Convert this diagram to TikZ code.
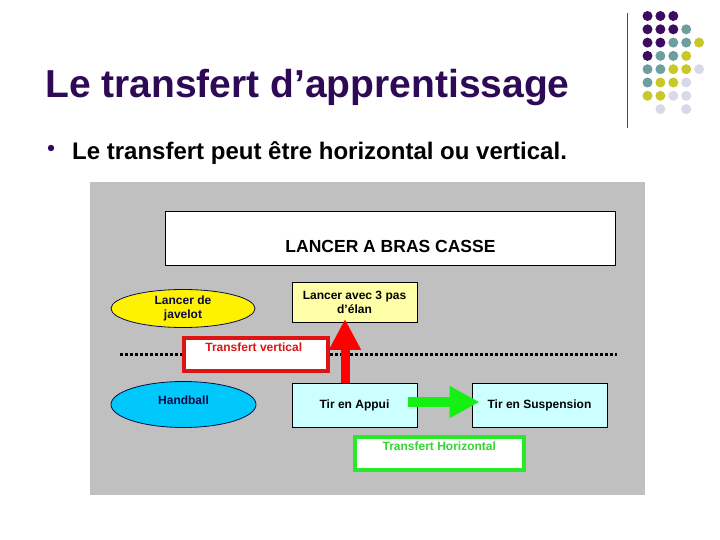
\documentclass[tikz,border=0pt]{standalone}
\usepackage{fontspec}
\setmainfont{Liberation Sans}
\usetikzlibrary{shapes.geometric}
\usetikzlibrary{arrows.meta}

\definecolor{titlepurple}{RGB}{46,10,86}
\definecolor{dotpurple}{RGB}{60,12,98}
\definecolor{dotteal}{RGB}{110,158,160}
\definecolor{dotyellow}{RGB}{200,200,40}
\definecolor{dotlilac}{RGB}{216,216,232}
\definecolor{panelgrey}{RGB}{192,192,192}
\definecolor{paleyellow}{RGB}{255,255,168}
\definecolor{palecyan}{RGB}{204,255,255}
\definecolor{skyblue}{RGB}{0,200,250}
\definecolor{navytext}{RGB}{10,10,70}
\definecolor{boxred}{RGB}{220,20,20}
\definecolor{boxgreen}{RGB}{40,235,40}
\definecolor{textgreen}{RGB}{50,215,50}
\definecolor{arrowgreen}{RGB}{20,240,20}

\tikzset{
  dtext/.style={font=\fontsize{12}{14.3}\selectfont\bfseries},
  plainbox/.style={draw=black, line width=0.9pt, inner sep=0pt},
  ovalbox/.style={ellipse, draw=navytext, line width=0.8pt, inner sep=0pt, text=navytext, dtext, align=center},
  framebox/.style={draw, line width=4pt, fill=white, inner sep=0pt},
}

\begin{document}
\begin{tikzpicture}[x=1pt,y=-1pt]
        \useasboundingbox (0,0) rectangle (720,540);

        \node[anchor=base west, inner sep=0pt, text=titlepurple, font=\fontsize{39}{44}\selectfont\bfseries] (title) at (45,97.5) {Le transfert d’apprentissage};
        \fill[titlepurple] (51,148) circle (3.2pt);
        \node[anchor=base west, inner sep=0pt, font=\fontsize{24}{28}\selectfont\bfseries] (intro) at (72,160) {Le transfert peut être horizontal ou vertical.};

        \draw[line width=1pt, black!70] (627.3,12.7) -- (627.3,127.7);
        \foreach \col/\row/\shade in {1/1/dotpurple, 2/1/dotpurple, 3/1/dotpurple,
            1/2/dotpurple, 2/2/dotpurple, 3/2/dotpurple, 4/2/dotteal,
            1/3/dotpurple, 2/3/dotpurple, 3/3/dotteal, 4/3/dotteal, 5/3/dotyellow,
            1/4/dotpurple, 2/4/dotteal, 3/4/dotteal, 4/4/dotyellow,
            1/5/dotteal, 2/5/dotteal, 3/5/dotyellow, 4/5/dotyellow, 5/5/dotlilac,
            1/6/dotteal, 2/6/dotyellow, 3/6/dotyellow, 4/6/dotlilac,
            1/7/dotyellow, 2/7/dotyellow, 3/7/dotlilac, 4/7/dotlilac,
            2/8/dotlilac, 4/8/dotlilac}
          \fill[\shade] ({634.6+12.9*\col},{2.7+13.3*\row}) circle (5pt);

        \fill[panelgrey] (90,182) rectangle (645,494.5);

        \node[plainbox, fill=white, minimum width=450pt, minimum height=54pt,
          label={[font=\fontsize{17.5}{20}\selectfont\bfseries, yshift=-8.4pt]center:LANCER A BRAS CASSE}] (bras) at (390.5,238.3) {};
        \node[plainbox, fill=paleyellow, minimum width=125pt, minimum height=40pt, dtext, align=center] (elan) at (354.5,302.5) {Lancer avec 3 pas\\d’élan};
        \node[ovalbox, fill=yellow, minimum width=144pt, minimum height=38pt] (javelot) at (183,308.5) {Lancer de\\javelot};

        \draw[line width=3pt, dash pattern=on 2.5pt off 2.5pt] (120,354.5) coordinate (dotl) -- (617,354.5) coordinate (dotr);

        \node[ovalbox, fill=skyblue, minimum width=145pt, minimum height=46pt,
          label={[dtext, text=navytext, yshift=4.5pt]center:Handball}] (hand) at (183.5,404.5) {};
        \node[plainbox, fill=palecyan, minimum width=125pt, minimum height=44pt, dtext] (appui) at (354.5,405) {Tir en Appui};
        \node[plainbox, fill=palecyan, minimum width=135pt, minimum height=44pt, dtext] (susp) at (539.5,405) {Tir en Suspension};

        \node[framebox, draw=boxred, minimum width=144.5pt, minimum height=33.5pt,
          label={[dtext, text=boxred, xshift=-2pt, yshift=7pt]center:Transfert vertical}] (vert) at (255.75,354.25) {};
        \node[framebox, draw=boxgreen, minimum width=169pt, minimum height=33pt,
          label={[dtext, text=textgreen, yshift=6.6pt]center:Transfert Horizontal}] (horiz) at (439.3,453.3) {};

        \draw[red, line width=9pt, -{Triangle[length=31pt, width=30pt]}] ([xshift=-9.5pt]appui.north) -- ([xshift=-9.5pt, yshift=4pt]elan.south);
        \draw[arrowgreen, line width=10pt, -{Triangle[length=30pt, width=30pt]}] ([xshift=-9pt, yshift=3pt]appui.east) -- ([xshift=8pt, yshift=3pt]susp.west);
    \end{tikzpicture}
\end{document}
